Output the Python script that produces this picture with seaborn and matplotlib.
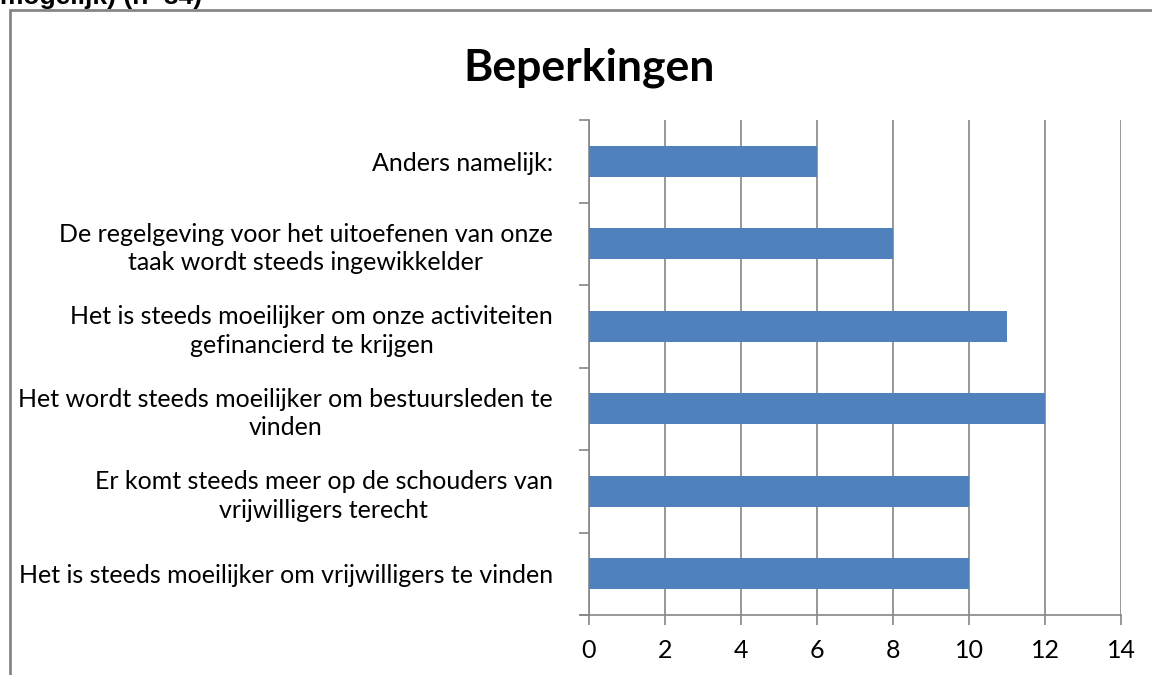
import pandas as pd
import matplotlib.pyplot as plt
import matplotlib.patches as patches
import seaborn as sns

categories = [
    "Anders namelijk:",
    "De regelgeving voor het uitoefenen van onze\ntaak wordt steeds ingewikkelder",
    "Het is steeds moeilijker om onze activiteiten\ngefinancierd te krijgen",
    "Het wordt steeds moeilijker om bestuursleden te\nvinden",
    "Er komt steeds meer op de schouders van\nvrijwilligers terecht",
    "Het is steeds moeilijker om vrijwilligers te vinden",
]
counts = [6, 8, 11, 12, 10, 10]
x_ticks = [0, 2, 4, 6, 8, 10, 12, 14]

GRID = "#868686"
BAR = "#4F81BD"


def create_graph():
    df = pd.DataFrame({"categorie": categories, "aantal": counts})

    sns.set_style("white")
    plt.rcParams["font.family"] = ["Lato", "DejaVu Sans"]
    plt.rcParams["text.color"] = "black"
    plt.rcParams["xtick.labelcolor"] = "black"
    plt.rcParams["ytick.labelcolor"] = "black"

    fig = plt.figure(figsize=(11.52, 6.75), dpi=100)
    ax = fig.add_axes([589 / 1152, 60 / 675, 532 / 1152, 495 / 675])

    sns.barplot(data=df, x="aantal", y="categorie", orient="h",
                color=BAR, width=0.37, saturation=1, linewidth=0,
                ax=ax, zorder=3)

    ax.set_xlim(0, 14)
    ax.set_xticks(x_ticks)
    ax.set_xticklabels([str(t) for t in x_ticks], fontsize=18)
    ax.set_xlabel("")
    ax.set_ylabel("")
    ax.xaxis.grid(True, color=GRID, linewidth=1.2, zorder=0)
    ax.yaxis.grid(False)

    # category ticks sit between the bars
    n = len(categories)
    ax.set_ylim(n - 0.5, -0.5)
    ax.set_yticks([i - 0.5 for i in range(n + 1)], minor=False)
    ax.set_yticklabels([""] * (n + 1))
    ax.set_yticks(range(n), minor=True)
    ax.set_yticklabels(categories, minor=True, fontsize=18,
                       multialignment="center", linespacing=1.3)
    ax.tick_params(axis="y", which="minor", length=0, pad=26)
    ax.tick_params(axis="y", which="major", length=7, color=GRID, width=1.2,
                   left=True)
    ax.tick_params(axis="x", length=7, color=GRID, width=1.2, bottom=True,
                   pad=10, direction="out")

    for s in ["top", "right"]:
        ax.spines[s].set_visible(False)
    for s in ["left", "bottom"]:
        ax.spines[s].set_color(GRID)
        ax.spines[s].set_linewidth(1.2)
    ax.spines["bottom"].set_bounds(-0.22, 14)
    ax.spines["bottom"].set_zorder(4)

    fig.text(589 / 1152, 1 - 68 / 675, "Beperkingen", ha="center",
             va="center", fontsize=32, fontweight="bold")

    # outer chart frame and the cut-off caption above it
    fig.patches.append(patches.Rectangle(
        (10 / 1152, -0.5), 2, 1.5 - 10 / 675, transform=fig.transFigure,
        fill=False, edgecolor=GRID, linewidth=2))
    fig.text(0.0, 1 - 4 / 675, "mogelijk) (n=34)", ha="left",
             va="baseline", fontsize=19, fontweight="bold",
             family=["Liberation Sans", "DejaVu Sans"])

    fig.savefig("out.png", dpi=100)


create_graph()
